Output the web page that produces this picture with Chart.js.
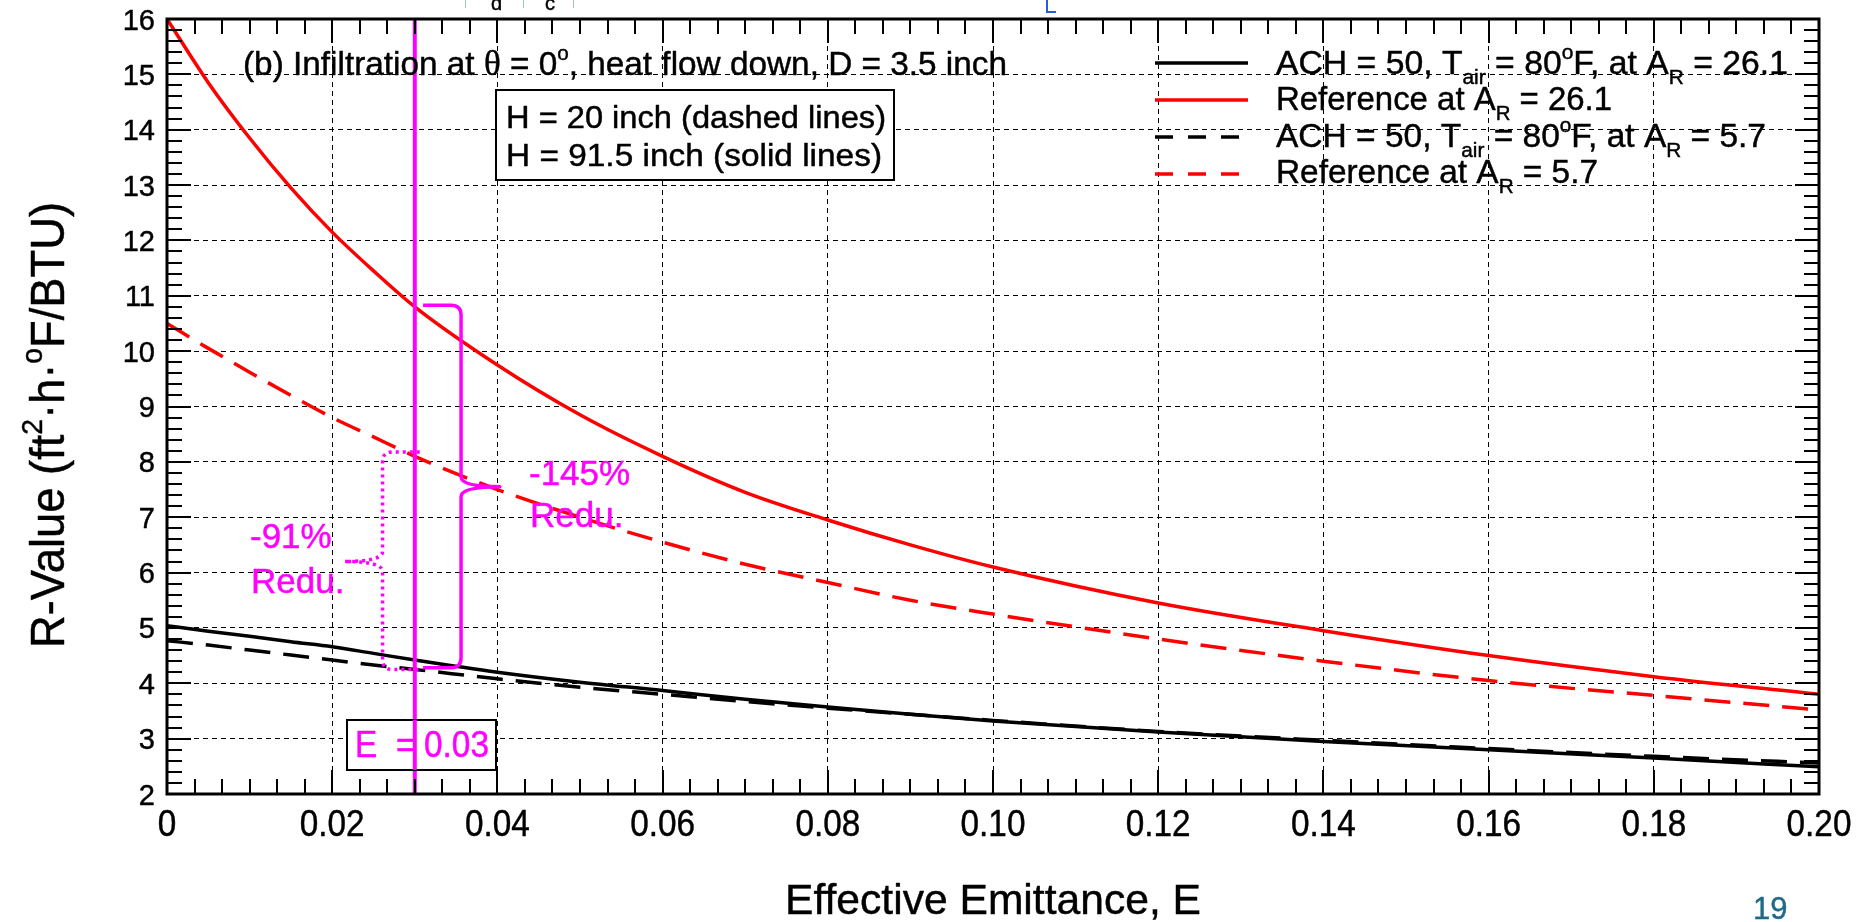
<!DOCTYPE html>
<html>
<head>
<meta charset="utf-8">
<script src="https://cdn.jsdelivr.net/npm/chart.js@4.4.0/dist/chart.umd.min.js"></script>
<style>
  html, body { margin: 0; padding: 0; background: #fff; overflow: hidden; }
  #wrap { position: relative; width: 1865px; height: 922px; }
</style>
</head>
<body>
<div id="wrap"><canvas id="chart" width="1865" height="922"></canvas></div>
<script>
// Effective emittance sample points (x axis)
const emittance = [0, 0.005, 0.01, 0.015, 0.02, 0.025, 0.03, 0.04, 0.05, 0.06, 0.07, 0.08, 0.09, 0.10, 0.12, 0.14, 0.16, 0.18, 0.20];

// R-values, ft2.h.F/BTU
const achAR261 = [5.04, 4.94, 4.85, 4.75, 4.66, 4.54, 4.42, 4.20, 4.02, 3.87, 3.71, 3.57, 3.44, 3.32, 3.12, 2.95, 2.80, 2.65, 2.49];
const refAR261 = [16.0, 14.85, 13.85, 12.95, 12.15, 11.45, 10.8, 9.75, 8.85, 8.10, 7.45, 6.95, 6.50, 6.10, 5.45, 4.95, 4.50, 4.12, 3.80];
const achAR57  = [4.77, 4.69, 4.60, 4.51, 4.42, 4.33, 4.25, 4.08, 3.93, 3.80, 3.67, 3.55, 3.44, 3.33, 3.13, 2.97, 2.82, 2.68, 2.56];
const refAR57  = [10.5, 10.05, 9.62, 9.20, 8.80, 8.45, 8.10, 7.50, 7.00, 6.55, 6.15, 5.82, 5.50, 5.25, 4.80, 4.40, 4.05, 3.78, 3.52];

// Axis tick labels
const xTickValues = [0, 0.02, 0.04, 0.06, 0.08, 0.10, 0.12, 0.14, 0.16, 0.18, 0.20];
const xTickLabels = ['0', '0.02', '0.04', '0.06', '0.08', '0.10', '0.12', '0.14', '0.16', '0.18', '0.20'];
const yTickValues = [2, 3, 4, 5, 6, 7, 8, 9, 10, 11, 12, 13, 14, 15, 16];
const yTickLabels = yTickValues.map(String);

// Highlighted emittance and the reduction braces (data units)
const markedE = 0.03;
const solidBrace = { x: 0.0356, top: 10.83, bottom: 4.28, tipX: 0.0403, tipY: 7.55, endX: 0.031 };
const dottedBrace = { x: 0.0261, top: 8.18, bottom: 4.25, tipX: 0.0215, tipY: 6.2, endX: 0.0306 };

const FONT = '"Liberation Sans", Arial, Helvetica, sans-serif';
const SERIF = '"Liberation Serif", "DejaVu Serif", serif';
const MAGENTA = '#ff00ff';

const toPoints = ys => emittance.map((x, i) => ({ x, y: ys[i] }));

// Text runs: '' plain, 'sub'/'sup' smaller and shifted, 'serif' for the Greek letter.
function segFont(k, size) {
  if (k === 'serif') return `${size * 1.05}px ${SERIF}`;
  return `${k ? size * 0.62 : size}px ${FONT}`;
}
function richWidth(ctx, segs, size) {
  let w = 0;
  for (const [t, k] of segs) {
    ctx.font = segFont(k, size);
    w += ctx.measureText(t).width;
  }
  return w;
}
function drawRich(ctx, x, baseline, segs, size, color, opt = {}) {
  ctx.save();
  const natural = richWidth(ctx, segs, size);
  const sx = opt.width ? opt.width / natural : (opt.scaleX || 1);
  let startX = x;
  if (opt.align === 'center') startX = x - natural * sx / 2;
  else if (opt.align === 'right') startX = x - natural * sx;
  ctx.translate(startX, baseline);
  ctx.scale(sx, 1);
  ctx.fillStyle = color;
  ctx.strokeStyle = color;
  ctx.lineJoin = 'round';
  ctx.textAlign = 'left';
  ctx.textBaseline = 'alphabetic';
  let cx = 0;
  for (const [t, k] of segs) {
    ctx.font = segFont(k, size);
    ctx.lineWidth = 0.45;
    const dy = k === 'sub' ? size * 0.30 : k === 'sup' ? -size * 0.45 : 0;
    ctx.fillText(t, cx, dy);
    ctx.strokeText(t, cx, dy);
    cx += ctx.measureText(t).width;
  }
  ctx.restore();
}

// Curly brace drawn through the scales: vertical spine at b.x, point at (tipX, tipY)
function drawBrace(ctx, xs, ys, b) {
  const X = xs.getPixelForValue(b.x);
  const T = ys.getPixelForValue(b.top);
  const B = ys.getPixelForValue(b.bottom);
  const TX = xs.getPixelForValue(b.tipX);
  const TY = ys.getPixelForValue(b.tipY);
  const EX = xs.getPixelForValue(b.endX);
  const dir = TX > X ? 1 : -1;
  const r = 10;
  ctx.beginPath();
  ctx.moveTo(EX, T);
  ctx.lineTo(X - dir * r, T);
  ctx.quadraticCurveTo(X, T, X, T + r);
  ctx.lineTo(X, TY - r);
  ctx.quadraticCurveTo(X, TY, TX, TY);
  ctx.quadraticCurveTo(X, TY, X, TY + r);
  ctx.lineTo(X, B - r);
  ctx.quadraticCurveTo(X, B, X - dir * r, B);
  ctx.lineTo(EX, B);
  ctx.stroke();
}

const overlay = {
  id: 'overlay',
  afterDatasetsDraw(chart) {
    const ctx = chart.ctx;
    const xs = chart.scales.x, ys = chart.scales.y;
    const a = chart.chartArea;

    // highlighted emittance line
    const mx = xs.getPixelForValue(markedE);
    ctx.save();
    ctx.strokeStyle = MAGENTA;
    ctx.lineWidth = 4;
    ctx.beginPath(); ctx.moveTo(mx, a.top); ctx.lineTo(mx, a.bottom); ctx.stroke();

    // reduction braces
    ctx.lineWidth = 3.5;
    ctx.lineJoin = 'round';
    drawBrace(ctx, xs, ys, solidBrace);
    ctx.setLineDash([3, 4]);
    drawBrace(ctx, xs, ys, dottedBrace);
    ctx.setLineDash([]);
    ctx.restore();

    drawRich(ctx, 529, 485, [['-145%', '']], 35, MAGENTA);
    drawRich(ctx, 530, 527, [['Redu.', '']], 35, MAGENTA);
    drawRich(ctx, 250, 548, [['-91%', '']], 35, MAGENTA);
    drawRich(ctx, 251, 593, [['Redu.', '']], 35, MAGENTA);

    // E = 0.03 box
    ctx.save();
    ctx.fillStyle = '#fff';
    ctx.fillRect(347, 720, 149, 50);
    ctx.strokeStyle = '#000';
    ctx.lineWidth = 2;
    ctx.strokeRect(347, 720, 149, 50);
    ctx.restore();
    drawRich(ctx, 355, 757, [['E', '']], 37, MAGENTA, { scaleX: 0.9 });
    drawRich(ctx, 396, 757, [['=', '']], 37, MAGENTA, { scaleX: 0.9 });
    drawRich(ctx, 424, 757, [['0.03', '']], 37, MAGENTA, { width: 65 });
    ctx.save();
    ctx.strokeStyle = MAGENTA; ctx.lineWidth = 4;
    ctx.beginPath(); ctx.moveTo(mx, 720); ctx.lineTo(mx, 770); ctx.stroke();
    ctx.restore();

    // H box
    ctx.save();
    ctx.fillStyle = '#fff';
    ctx.fillRect(496, 90, 398, 90);
    ctx.strokeStyle = '#000';
    ctx.lineWidth = 2;
    ctx.strokeRect(496, 90, 398, 90);
    ctx.restore();
    drawRich(ctx, 506, 128, [['H = 20 inch (dashed lines)', '']], 31, '#000', { width: 380 });
    drawRich(ctx, 506, 166, [['H = 91.5 inch (solid lines)', '']], 31, '#000', { width: 376 });

    // panel title
    drawRich(ctx, 243, 75, [['(b) Infiltration at ', ''], ['\u03b8', 'serif'], [' = 0', ''], ['o', 'sup'], [', heat flow down, D = 3.5 inch', '']], 34, '#000', { width: 764 });

    // legend
    const legend = [
      { color: '#000', dash: [], y: 63, base: 74, end: 1788,
        segs: [['ACH = 50, T', ''], ['air', 'sub'], [' = 80', ''], ['o', 'sup'], ['F, at A', ''], ['R', 'sub'], [' = 26.1', '']] },
      { color: '#ff0000', dash: [], y: 100, base: 110, end: 1612,
        segs: [['Reference at A', ''], ['R', 'sub'], [' = 26.1', '']] },
      { color: '#000', dash: [18, 15], y: 137, base: 147, end: 1766,
        segs: [['ACH = 50, T', ''], ['air', 'sub'], [' = 80', ''], ['o', 'sup'], ['F, at A', ''], ['R', 'sub'], [' = 5.7', '']] },
      { color: '#ff0000', dash: [18, 15], y: 174, base: 183, end: 1598,
        segs: [['Reference at A', ''], ['R', 'sub'], [' = 5.7', '']] },
    ];
    for (const item of legend) {
      ctx.save();
      ctx.strokeStyle = item.color;
      ctx.lineWidth = 3.5;
      ctx.setLineDash(item.dash);
      ctx.beginPath(); ctx.moveTo(1155, item.y); ctx.lineTo(1248, item.y); ctx.stroke();
      ctx.restore();
      drawRich(ctx, 1276, item.base, item.segs, 33, '#000', { width: item.end - 1276 });
    }

    // frame and tick marks on all four sides
    ctx.save();
    ctx.strokeStyle = '#000';
    ctx.lineWidth = 2;
    const tick = (x1, y1, x2, y2) => { ctx.beginPath(); ctx.moveTo(x1, y1); ctx.lineTo(x2, y2); ctx.stroke(); };
    for (let i = 0; i <= 60; i++) {
      const v = i * 0.2 / 60;
      const x = Math.round(xs.getPixelForValue(v));
      const len = i % 6 === 0 ? 24 : 15;
      tick(x, a.top, x, a.top + len);
      tick(x, a.bottom, x, a.bottom - len);
    }
    for (let i = 0; i <= 70; i++) {
      const v = 2 + i * 0.2;
      const y = Math.round(ys.getPixelForValue(v));
      const len = i % 5 === 0 ? 24 : 15;
      tick(a.left, y, a.left + len, y);
      tick(a.right, y, a.right - len, y);
    }
    ctx.lineWidth = 3;
    ctx.strokeRect(a.left, a.top, a.right - a.left, a.bottom - a.top);
    ctx.restore();

    // tick labels
    xTickValues.forEach((v, i) => {
      drawRich(ctx, xs.getPixelForValue(v), 836, [[xTickLabels[i], '']], 37, '#000', { align: 'center', scaleX: 0.9 });
    });
    yTickValues.forEach((v, i) => {
      drawRich(ctx, 155, ys.getPixelForValue(v) + 10.5, [[yTickLabels[i], '']], 29, '#000', { align: 'right' });
    });

    // axis titles
    drawRich(ctx, 993, 914, [['Effective Emittance, E', '']], 42, '#000', { align: 'center', width: 416 });
    ctx.save();
    ctx.translate(64, 425);
    ctx.rotate(-Math.PI / 2);
    const ySegs = [['R-Value (ft', ''], ['2', 'sup'], ['\u00b7h\u00b7', ''], ['o', 'sup'], ['F/BTU)', '']];
    drawRich(ctx, 0, 0, ySegs, 48, '#000', { align: 'center', width: 446 });
    ctx.restore();

    // slide page number and clipped marks at the top edge
    drawRich(ctx, 1753, 919, [['19', '']], 31, '#1f6a86');
    drawRich(ctx, 491, 10, [['d', '']], 20, '#000');
    drawRich(ctx, 545, 10, [['c', '']], 20, '#000');
    ctx.save();
    ctx.fillStyle = '#9fbfe0';
    [465, 523, 573].forEach(x => ctx.fillRect(x, 0, 1, 8));
    ctx.fillStyle = '#2a5bd7';
    ctx.fillRect(1046, 0, 2, 12);
    ctx.fillRect(1046, 11, 10, 2);
    ctx.restore();
  }
};

const gridStyle = { color: '#000', lineWidth: 1, drawTicks: false };

new Chart(document.getElementById('chart'), {
  type: 'line',
  data: {
    datasets: [
      { label: 'ACH = 50, Tair = 80oF, at AR = 26.1', data: toPoints(achAR261), borderColor: '#000', borderWidth: 3.5 },
      { label: 'Reference at AR = 26.1', data: toPoints(refAR261), borderColor: '#ff0000', borderWidth: 3.5 },
      { label: 'ACH = 50, Tair = 80oF, at AR = 5.7', data: toPoints(achAR57), borderColor: '#000', borderWidth: 3.5, borderDash: [26, 13] },
      { label: 'Reference at AR = 5.7', data: toPoints(refAR57), borderColor: '#ff0000', borderWidth: 3.5, borderDash: [26, 13] },
    ]
  },
  options: {
    responsive: false,
    animation: false,
    layout: { padding: { left: 167, top: 19, right: 46, bottom: 128 } },
    elements: { point: { radius: 0 }, line: { cubicInterpolationMode: 'monotone', fill: false } },
    plugins: { legend: { display: false }, tooltip: { enabled: false } },
    scales: {
      x: { type: 'linear', min: 0, max: 0.2, ticks: { display: false, stepSize: 0.02 },
           grid: gridStyle, border: { display: false, dash: [5, 4] } },
      y: { type: 'linear', min: 2, max: 16, ticks: { display: false, stepSize: 1 },
           grid: gridStyle, border: { display: false, dash: [5, 4] } }
    }
  },
  plugins: [overlay]
});
</script>
</body>
</html>
